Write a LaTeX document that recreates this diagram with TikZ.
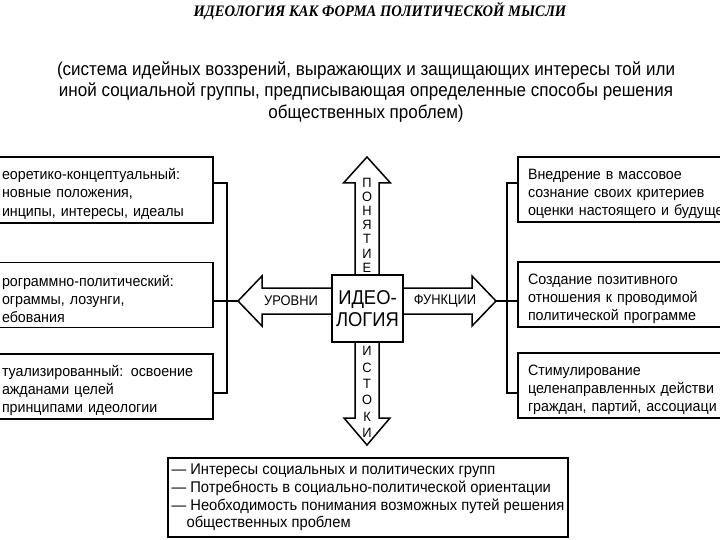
\documentclass[tikz,border=0pt]{standalone}
\usepackage{fontspec}
\setmainfont{Liberation Sans}
\newfontfamily\narrowfont[FakeStretch=0.95]{Liberation Sans}
\newfontfamily\slimfont[FakeStretch=0.92]{Liberation Sans}
\newfontfamily\titlefont[FakeStretch=0.91]{Liberation Serif}

\begin{document}
\begin{tikzpicture}[x=1pt, y=-1pt,
  lbox/.style={
    draw, line width=1.8pt, rectangle,
    text width=204pt, minimum height=65pt,
    font=\narrowfont\fontsize{15}{18.4}\selectfont, align=left, inner xsep=7pt,
    execute at begin node={\rule{0pt}{19pt}}
  },
  rbox/.style={
    draw, line width=1.8pt, rectangle,
    text width=230pt, minimum height=65pt,
    font=\narrowfont\fontsize{15}{18.4}\selectfont, align=left, inner xsep=10pt,
    execute at begin node={\rule{0pt}{19pt}}
  },
  fat/.style={draw, line width=1.5pt, fill=white, line join=miter},
  tag/.style={font=\slimfont\fontsize{14}{14}\selectfont, inner sep=0pt},
  vtag/.style={font=\narrowfont\fontsize{13.5}{#1}\selectfont, align=center, inner sep=0pt},
  link/.style={line width=1.5pt},
]
\useasboundingbox (0,0) rectangle (720,540);

\node[font=\titlefont\bfseries\itshape\fontsize{16}{16}\selectfont] (title) at (380,11)
  {ИДЕОЛОГИЯ КАК ФОРМА ПОЛИТИЧЕСКОЙ МЫСЛИ};
\node[font=\slimfont\fontsize{18.5}{21.5}\selectfont, align=center] (def) at (366,92)
  {(система идейных воззрений, выражающих и защищающих интересы той или\\
   иной социальной группы, предписывающая определенные способы решения\\
   общественных проблем)};

% arrows round the centre
\coordinate (tipU) at (367,157);
\coordinate (tipD) at (367,445);
\coordinate (tipL) at (238,301);
\coordinate (tipR) at (496,301);
\draw[fat] (355,276) -- (355,183) -- (343.5,183) -- (tipU) -- (390.5,183) -- (379,183) -- (379,276);
\draw[fat] (355,341) -- (355,418) -- (344,418) -- (tipD) -- (390,418) -- (379,418) -- (379,341);
\draw[fat] (333,288) -- (262,288) -- (262,276) -- (tipL) -- (262,326) -- (262,314) -- (333,314);
\draw[fat] (402,288) -- (472,288) -- (472,276) -- (tipR) -- (472,326) -- (472,314) -- (402,314);

\node[draw, line width=1.8pt, fill=white, minimum width=71pt, minimum height=67pt,
  font=\slimfont\fontsize{20}{22}\selectfont, align=center, inner sep=0pt] (ideo) at (367.5,308.5)
  {ИДЕО-\\ЛОГИЯ};

\node[tag] (urov) at (291,301) {УРОВНИ};
\node[tag] (func) at (445,301) {ФУНКЦИИ};
\node[vtag=14.2] (ponyat) at (367,225) {П\\О\\Н\\Я\\Т\\И\\Е};
\node[vtag=16.3] (istoki) at (367,392) {И\\С\\Т\\О\\К\\И};

% levels
\node[lbox] (l1) at (104,190)
  {еоретико-концептуальный:\\новные положения,\\инципы, интересы, идеалы};
\node[lbox] (l2) at (104,295)
  {рограммно-политический:\\ограммы, лозунги,\\ебования};
\node[lbox] (l3) at (104,386.5)
  {туализированный: освоение\\ажданами целей\\принципами идеологии};

% functions
\node[rbox] (r1) at (643,189.5)
  {Внедрение в массовое\\сознание своих критериев\\оценки настоящего и будуще};
\node[rbox] (r2) at (643,294.5)
  {Создание позитивного\\отношения к проводимой\\политической программе};
\node[rbox] (r3) at (643,385.5)
  {Стимулирование\\целенаправленных действи\\граждан, партий, ассоциаци};

% sources
\node[draw, line width=1.8pt, minimum width=400pt, minimum height=79pt,
  font=\narrowfont\fontsize{15.5}{17.7}\selectfont, align=left, inner sep=3pt,
  execute at begin node={\rule{0pt}{16pt}}] (src) at (368,497.5)
  {— Интересы социальных и политических групп\\
   — Потребность в социально-политической ориентации\\
   — Необходимость понимания возможных путей решения\\
   \hspace*{15pt}общественных проблем};

\coordinate (lbt) at (227,183);
\coordinate (lbb) at (227,393);
\coordinate (rbt) at (507,183);
\coordinate (rbb) at (507,393);
\draw[link] (l1.east |- lbt) -- (lbt) -- (lbb) -- (l3.east |- lbb);
\draw[link] (l2.east |- tipL) -- (tipL);
\draw[link] (r1.west |- rbt) -- (rbt) -- (rbb) -- (r3.west |- rbb);
\draw[link] (tipR) -- (r2.west |- tipR);

\end{tikzpicture}
\end{document}
